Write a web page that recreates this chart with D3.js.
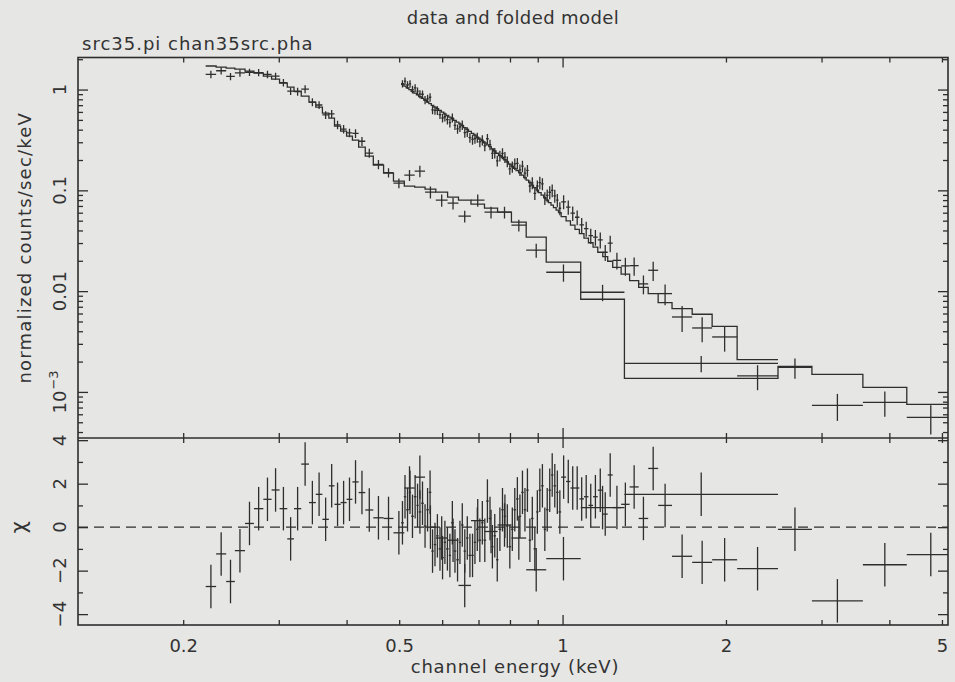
<!DOCTYPE html>
<html><head><meta charset="utf-8">
<script src="https://cdn.jsdelivr.net/npm/d3@7"></script>
<style>
html,body{margin:0;padding:0;background:#e6e6e4;}
svg{display:block;}
text{font-family:"DejaVu Sans",sans-serif;fill:#333333;}
</style></head><body>
<svg id="c" width="955" height="682"></svg>
<script>
// ---------- text ----------
const titleText = "data and folded model";
const subtitleText = "src35.pi chan35src.pha";
const xLabelText = "channel energy (keV)";
const yTopLabelText = "normalized counts/sec/keV";
const yBotLabelText = "χ";

// ---------- ticks ----------
const xLabelValues = [0.2, 0.5, 1, 2, 5];
const xLabelTexts = ["0.2", "0.5", "1", "2", "5"];
const xMajorTicks = [1];
const xMinorTicks = [0.2,0.3,0.4,0.5,0.6,0.7,0.8,0.9,2,3,4,5];
const yTopLabelValues = [1, 0.1, 0.01, 0.001];
const yTopLabelTexts = ["1", "0.1", "0.01", "10^-3"];
const yTopMinorTicks = [2,0.9,0.8,0.7,0.6,0.5,0.4,0.3,0.2,0.09,0.08,0.07,0.06,0.05,0.04,0.03,0.02,
  0.009,0.008,0.007,0.006,0.005,0.004,0.003,0.002,0.0009,0.0008,0.0007,0.0006,0.0005,0.0004];
const yBotLabelValues = [-4, -2, 0, 2, 4];
const yBotLabelTexts = ["−4", "−2", "0", "2", "4"];
const yBotMinorTicks = [-3, -1, 1, 3];

// ---------- spectrum 1 (src35.pi) ----------
const s1Edges = [0.220,0.230,0.240,0.249,0.260,0.270,0.281,0.291,0.301,0.311,0.320,0.330,0.341,0.351,0.361,0.371,0.380,0.390,0.400,0.410,0.421,0.433,0.448,0.468,0.488,0.511,0.534,0.558,0.584,0.614,0.643,0.678,0.718,0.759,0.805,0.857,0.933,1.080,1.300,2.494,2.880,3.575,4.307,5.280];
const s1Data = [1.415,1.537,1.349,1.462,1.485,1.475,1.415,1.362,1.174,0.966,0.955,1.011,0.751,0.703,0.560,0.575,0.447,0.405,0.372,0.367,0.307,0.234,0.181,0.150,0.118,0.1416,0.155,0.0959,0.0799,0.0746,0.0554,0.0799,0.0607,0.0607,0.0451,0.0255,0.0154,0.00975,0.00192,0.00175,0.000736,0.000788,0.000559];
const s1Err = [0.12,0.13,0.11,0.12,0.12,0.12,0.12,0.11,0.10,0.085,0.085,0.09,0.067,0.063,0.05,0.052,0.043,0.039,0.036,0.036,0.031,0.024,0.019,0.016,0.013,0.018,0.02,0.013,0.011,0.01,0.0075,0.011,0.008,0.008,0.006,0.004,0.003,0.0018,0.00035,0.0004,0.00022,0.00022,0.00018];
const s1Model = [1.712,1.673,1.635,1.598,1.526,1.458,1.362,1.271,1.160,1.059,0.966,0.862,0.751,0.670,0.584,0.521,0.434,0.387,0.345,0.315,0.269,0.219,0.178,0.148,0.1234,0.110,0.1076,0.1028,0.0959,0.0856,0.0799,0.0729,0.0666,0.0607,0.0483,0.0343,0.0194,0.00831,0.001365,0.001795,0.001495,0.001111,0.000753];
const s1Resid = [-2.73,-1.23,-2.5,-1.08,0.17,0.85,1.28,1.71,0.85,-0.54,0.85,2.9,1.13,1.51,0.36,1.9,1.05,1.13,1.28,2.08,1.59,0.79,0.43,0.4,-0.26,1.8,2.3,0.0,-0.5,-0.6,-2.68,0.3,-0.2,0.1,-0.5,-1.96,-1.45,0.9,1.51,-0.1,-3.39,-1.73,-1.26];

// ---------- spectrum 2 (chan35src.pha) ----------
const s2Edges = [0.504,0.510,0.515,0.521,0.526,0.532,0.538,0.543,0.549,0.555,0.561,0.567,0.573,0.579,0.585,0.591,0.598,0.604,0.610,0.617,0.623,0.630,0.637,0.644,0.650,0.657,0.664,0.671,0.679,0.686,0.693,0.700,0.708,0.715,0.723,0.731,0.739,0.746,0.754,0.762,0.771,0.779,0.787,0.795,0.804,0.812,0.821,0.830,0.839,0.848,0.857,0.866,0.875,0.884,0.894,0.903,0.913,0.923,0.932,0.942,0.952,0.962,0.973,0.983,0.994,1.015,1.034,1.054,1.074,1.095,1.116,1.138,1.161,1.186,1.211,1.237,1.282,1.329,1.381,1.438,1.500,1.591,1.733,1.886,2.097,2.494];
const s2Data = [1.144,1.212,1.111,1.139,1.000,1.037,0.964,0.902,0.898,0.788,0.810,0.839,0.630,0.621,0.621,0.565,0.522,0.537,0.502,0.469,0.524,0.442,0.408,0.425,0.444,0.374,0.381,0.334,0.320,0.327,0.334,0.302,0.316,0.276,0.325,0.284,0.2325,0.2347,0.196,0.220,0.233,0.2137,0.1932,0.1634,0.1715,0.1829,0.1854,0.1594,0.1739,0.1482,0.1576,0.1104,0.1187,0.0931,0.1104,0.1193,0.1160,0.0835,0.0892,0.0957,0.1000,0.0882,0.0799,0.0664,
  0.0770,0.0681,0.0594,0.0541,0.0455,0.0418,0.0355,0.0343,0.0323,0.0243,0.0299,
  0.0202,0.0178,0.0179,0.0118,0.0161,0.00945,
  0.00554,0.00431,0.00351,0.00144];
const s2Err = [0.095,0.103,0.096,0.099,0.088,0.092,0.087,0.082,0.083,0.073,0.076,0.080,0.060,0.060,0.061,0.056,0.052,0.054,0.051,0.048,0.054,0.046,0.043,0.045,0.048,0.041,0.042,0.037,0.036,0.037,0.038,0.035,0.037,0.032,0.038,0.034,0.028,0.028,0.024,0.027,0.029,0.027,0.024,0.021,0.022,0.024,0.024,0.021,0.023,0.020,0.021,0.015,0.016,0.013,0.015,0.017,0.016,0.012,0.013,0.014,0.0145,0.013,0.012,0.0098,
  0.0122,0.011,0.0097,0.009,0.0077,0.0071,0.0062,0.0061,0.0058,0.0044,0.0056,
  0.0038,0.0036,0.0037,0.0025,0.0035,0.0022,
  0.0016,0.0012,0.001,0.0004];
const s2Model = [1.126,1.082,1.040,0.998,0.960,0.921,0.884,0.850,0.816,0.785,0.753,0.724,0.697,0.670,0.645,0.621,0.598,0.575,0.554,0.533,0.513,0.494,0.476,0.457,0.439,0.420,0.402,0.3845,0.368,0.3525,0.3375,0.3225,0.309,0.2955,0.283,0.271,0.2583,0.2456,0.2335,0.2227,0.2117,0.2012,0.1919,0.1824,0.1735,0.1653,0.1572,0.1495,0.1415,0.1337,0.1263,0.1193,0.1126,0.1064,0.1005,0.0949,0.0896,0.0846,0.0799,0.0755,0.0713,0.0673,0.0636,0.0601,
  0.0549,0.0498,0.0452,0.0410,0.0372,0.0335,0.0302,0.0273,0.0243,0.0220,0.0198,
  0.01723,0.01472,0.01269,0.01091,0.00945,0.00769,
  0.00672,0.00590,0.00448,0.00209];
const s2Resid = [0.2,1.4,0.8,1.6,0.5,1.4,1.0,0.7,1.1,0.05,0.8,1.6,-1.1,-0.8,-0.4,-1.0,-1.4,-0.7,-1.0,-1.3,0.2,-1.1,-1.5,-0.7,0.1,-1.1,-0.5,-1.3,-1.3,-0.7,-0.1,-0.6,0.2,-0.6,1.2,0.4,-0.9,-0.4,-1.5,-0.1,0.8,0.5,0.05,-0.9,-0.1,0.8,1.3,0.5,1.6,0.8,1.7,-0.6,0.4,-1.0,0.7,1.7,1.9,-0.1,0.8,1.7,2.4,1.9,1.6,0.7,
  2.3,2.1,1.8,1.8,1.3,1.4,1.0,1.4,1.7,0.6,2.4,
  0.9,1.05,1.85,0.4,2.7,1.0,
  -1.34,-1.62,-1.5,-1.91];

// sanity check of array lengths
[[s1Edges,s1Data,s1Err,s1Model,s1Resid],[s2Edges,s2Data,s2Err,s2Model,s2Resid]].forEach((s,k)=>{
  const n = s[0].length - 1;
  s.slice(1).forEach((a,j)=>{ if (a.length !== n) throw new Error("spectrum "+(k+1)+" array "+j+" length "+a.length+" != "+n); });
});

// ---------- layout ----------
const W = 955, H = 682;
const L = 78, R = 948, T = 57.5, MID = 438, B = 625;
const ink = "#2e2e2e";
const lw = 1.3;

const svg = d3.select("#c");
svg.append("rect").attr("width", W).attr("height", H).attr("fill", "#e6e6e4");

const x = d3.scaleLog().domain([0.128, 5.13]).range([L, R]);
const yTop = d3.scaleLog().domain([3.49e-4, 2.08]).range([MID, T]);
const yBot = d3.scaleLinear().domain([-4.5, 4.1]).range([B, MID]);

const defs = svg.append("defs");
defs.append("clipPath").attr("id", "clipTop").append("rect").attr("x", L).attr("y", T).attr("width", R - L).attr("height", MID - T);
defs.append("clipPath").attr("id", "clipBot").append("rect").attr("x", L).attr("y", MID).attr("width", R - L).attr("height", B - MID);

// ---------- texts ----------
svg.append("text").attr("x", (L + R) / 2).attr("y", 24).attr("text-anchor", "middle")
  .attr("font-size", 18).attr("letter-spacing", 0.4).text(titleText);
svg.append("text").attr("x", 82).attr("y", 50).attr("font-size", 18).attr("letter-spacing", 1).text(subtitleText);
svg.append("text").attr("x", (L + R) / 2 + 2).attr("y", 673).attr("text-anchor", "middle")
  .attr("font-size", 18).attr("letter-spacing", 0.8).text(xLabelText);
svg.append("text").attr("transform", `translate(31,${(T + MID) / 2}) rotate(-90)`).attr("text-anchor", "middle")
  .attr("font-size", 18).attr("letter-spacing", 1.2).text(yTopLabelText);
svg.append("text").attr("transform", `translate(26,${yBot(0)}) rotate(-90)`).attr("text-anchor", "middle")
  .attr("font-size", 21).text(yBotLabelText);

// ---------- axes (ticks through d3 axes) ----------
function tickAxis(axisFn, scale, values, size, tx, ty) {
  const g = svg.append("g").attr("transform", `translate(${tx},${ty})`)
    .call(axisFn(scale).tickValues(values).tickSize(size).tickFormat(""));
  g.select(".domain").remove();
  g.selectAll(".tick line").attr("stroke", ink).attr("stroke-width", lw);
  return g;
}
[[T, 1], [MID, -1], [MID, 1], [B, -1]].forEach(([yy, d]) => {
  tickAxis(d3.axisBottom, x, xMajorTicks, 10 * d, 0, yy);
  tickAxis(d3.axisBottom, x, xMinorTicks, 5 * d, 0, yy);
});
[[L, -1], [R, 1]].forEach(([xx, d]) => {
  tickAxis(d3.axisLeft, yTop, yTopLabelValues, 10 * d, xx, 0);
  tickAxis(d3.axisLeft, yTop, yTopMinorTicks, 5 * d, xx, 0);
  tickAxis(d3.axisLeft, yBot, yBotLabelValues, 10 * d, xx, 0);
  tickAxis(d3.axisLeft, yBot, yBotMinorTicks, 5 * d, xx, 0);
});

// x tick labels
const xl = svg.append("g").attr("transform", `translate(0,${B})`)
  .call(d3.axisBottom(x).tickValues(xLabelValues).tickSize(0).tickPadding(14)
    .tickFormat((d, i) => xLabelTexts[i]));
xl.select(".domain").remove();
xl.selectAll("text").attr("font-size", 18).attr("font-family", '"DejaVu Sans",sans-serif').attr("fill", "#333");

// y tick labels (rotated)
yTopLabelValues.forEach((v, i) => {
  const t = svg.append("text").attr("transform", `translate(66,${yTop(v)}) rotate(-90)`)
    .attr("text-anchor", "middle").attr("font-size", 18);
  const s = yTopLabelTexts[i];
  if (s.includes("^")) {
    const [base, ex] = s.split("^");
    t.append("tspan").text(base);
    t.append("tspan").attr("dy", -8).attr("dx", 1).attr("font-size", 13).text(ex.replace("-", "−"));
  } else t.text(s);
});
yBotLabelValues.forEach((v, i) => {
  svg.append("text").attr("transform", `translate(66,${yBot(v)}) rotate(-90)`)
    .attr("text-anchor", "middle").attr("font-size", 18).text(yBotLabelTexts[i]);
});

// frame
svg.append("rect").attr("x", L).attr("y", T).attr("width", R - L).attr("height", B - T)
  .attr("fill", "none").attr("stroke", ink).attr("stroke-width", 1.6);
svg.append("line").attr("x1", L).attr("x2", R).attr("y1", MID).attr("y2", MID)
  .attr("stroke", ink).attr("stroke-width", 1.6);

// zero line
svg.append("line").attr("x1", L).attr("x2", R).attr("y1", yBot(0)).attr("y2", yBot(0))
  .attr("stroke", ink).attr("stroke-width", lw).attr("stroke-dasharray", "10,6");

// ---------- data ----------
const gTop = svg.append("g").attr("clip-path", "url(#clipTop)");
const gBot = svg.append("g").attr("clip-path", "url(#clipBot)");

function bins(edges, data, err, model, resid) {
  return data.map((v, i) => ({
    e0: edges[i], e1: edges[i + 1], ec: Math.sqrt(edges[i] * edges[i + 1]),
    v, err: err[i], m: model[i], r: resid[i]
  }));
}
const spectra = [bins(s1Edges, s1Data, s1Err, s1Model, s1Resid), bins(s2Edges, s2Data, s2Err, s2Model, s2Resid)];

const stair = d3.line().x(d => x(d[0])).y(d => yTop(d[1]));
spectra.forEach(sp => {
  const pts = [];
  sp.forEach(b => { pts.push([b.e0, b.m]); pts.push([b.e1, b.m]); });
  gTop.append("path").attr("d", stair(pts)).attr("fill", "none").attr("stroke", ink).attr("stroke-width", lw);

  sp.forEach(b => {
    gTop.append("line").attr("x1", x(b.e0)).attr("x2", x(b.e1)).attr("y1", yTop(b.v)).attr("y2", yTop(b.v))
      .attr("stroke", ink).attr("stroke-width", lw);
    gTop.append("line").attr("x1", x(b.ec)).attr("x2", x(b.ec))
      .attr("y1", yTop(Math.max(b.v - b.err, 1e-6))).attr("y2", yTop(b.v + b.err))
      .attr("stroke", ink).attr("stroke-width", lw);
    gBot.append("line").attr("x1", x(b.e0)).attr("x2", x(b.e1)).attr("y1", yBot(b.r)).attr("y2", yBot(b.r))
      .attr("stroke", ink).attr("stroke-width", lw);
    gBot.append("line").attr("x1", x(b.ec)).attr("x2", x(b.ec)).attr("y1", yBot(b.r - 1)).attr("y2", yBot(b.r + 1))
      .attr("stroke", ink).attr("stroke-width", lw);
  });
});
</script>
</body></html>
